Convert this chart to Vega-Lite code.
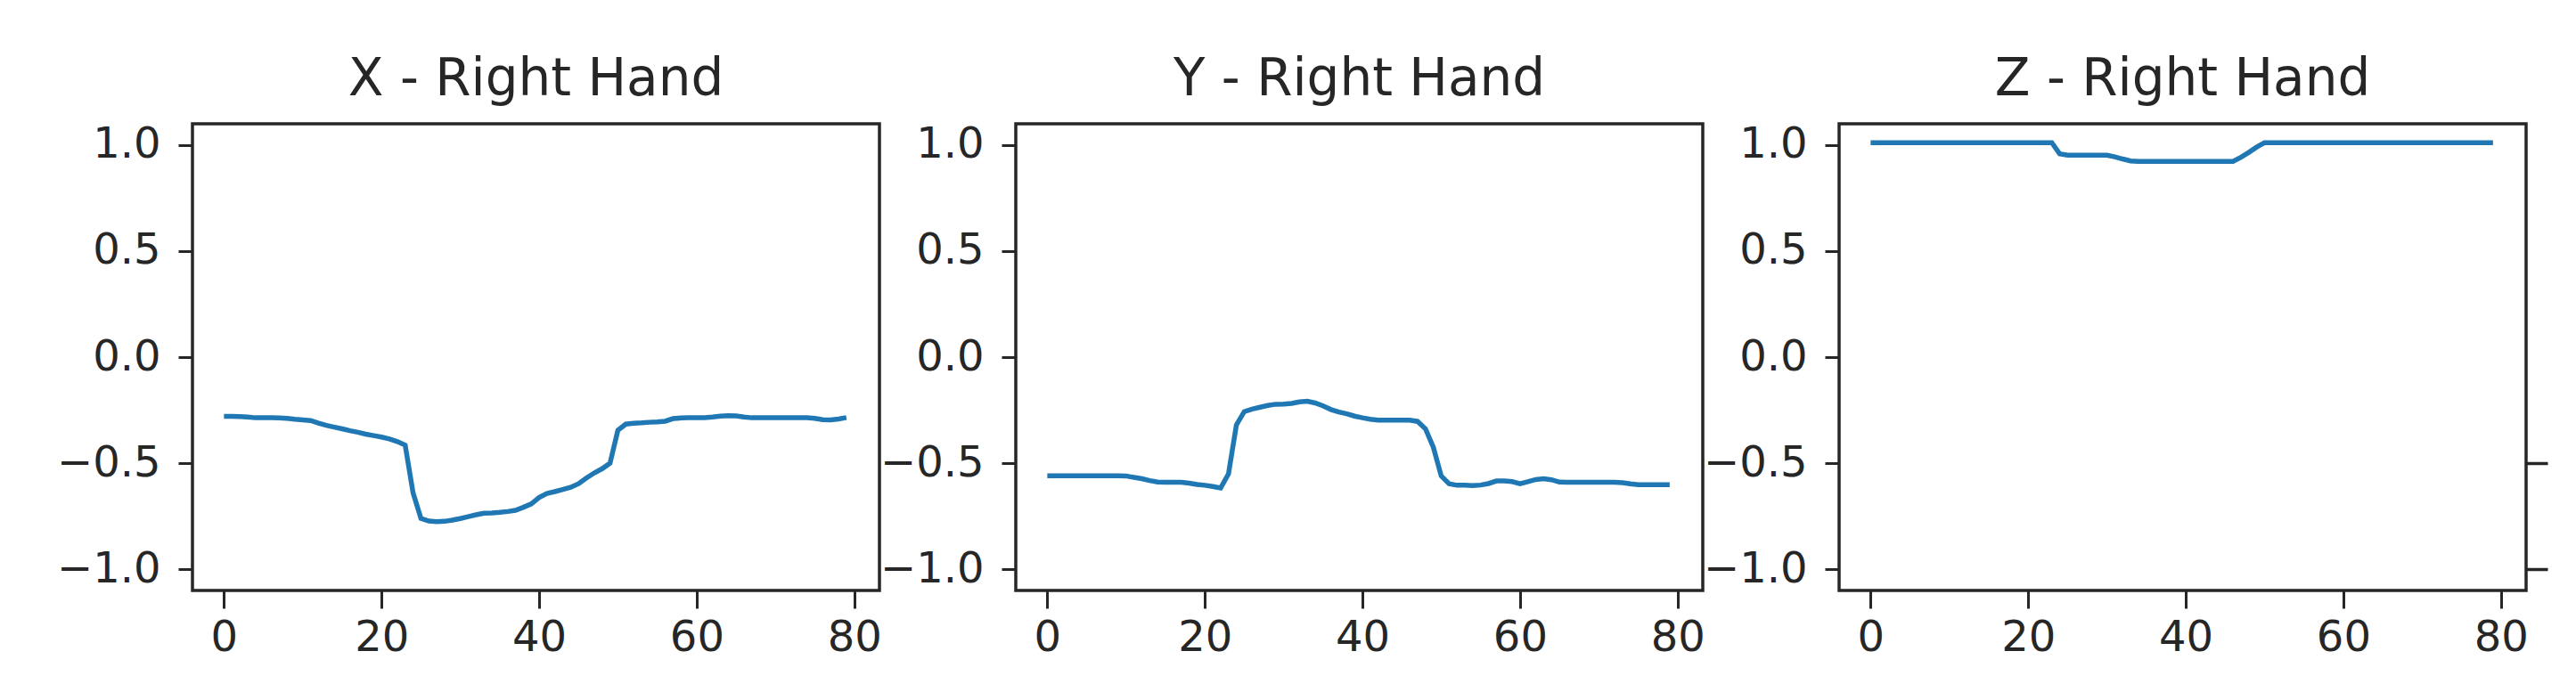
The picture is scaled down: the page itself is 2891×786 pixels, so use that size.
{
  "$schema": "https://vega.github.io/schema/vega-lite/v6.json",
  "background": "white",
  "padding": {"left": 61, "top": 59, "right": 0, "bottom": 0},
  "spacing": 153,
  "bounds": "flush",
  "data": {"values": [
    {"p":"X","t":0,"v":-0.279},{"p":"X","t":1,"v":-0.279},{"p":"X","t":2,"v":-0.280},{"p":"X","t":3,"v":-0.282},{"p":"X","t":4,"v":-0.286},{"p":"X","t":5,"v":-0.286},{"p":"X","t":6,"v":-0.286},{"p":"X","t":7,"v":-0.287},{"p":"X","t":8,"v":-0.289},{"p":"X","t":9,"v":-0.293},
    {"p":"X","t":10,"v":-0.296},{"p":"X","t":11,"v":-0.299},{"p":"X","t":12,"v":-0.311},{"p":"X","t":13,"v":-0.322},{"p":"X","t":14,"v":-0.330},{"p":"X","t":15,"v":-0.338},{"p":"X","t":16,"v":-0.347},{"p":"X","t":17,"v":-0.354},{"p":"X","t":18,"v":-0.363},{"p":"X","t":19,"v":-0.370},
    {"p":"X","t":20,"v":-0.377},{"p":"X","t":21,"v":-0.386},{"p":"X","t":22,"v":-0.398},{"p":"X","t":23,"v":-0.415},{"p":"X","t":24,"v":-0.640},{"p":"X","t":25,"v":-0.760},{"p":"X","t":26,"v":-0.773},{"p":"X","t":27,"v":-0.776},{"p":"X","t":28,"v":-0.774},{"p":"X","t":29,"v":-0.768},
    {"p":"X","t":30,"v":-0.761},{"p":"X","t":31,"v":-0.752},{"p":"X","t":32,"v":-0.743},{"p":"X","t":33,"v":-0.736},{"p":"X","t":34,"v":-0.735},{"p":"X","t":35,"v":-0.732},{"p":"X","t":36,"v":-0.728},{"p":"X","t":37,"v":-0.722},{"p":"X","t":38,"v":-0.708},{"p":"X","t":39,"v":-0.692},
    {"p":"X","t":40,"v":-0.662},{"p":"X","t":41,"v":-0.643},{"p":"X","t":42,"v":-0.634},{"p":"X","t":43,"v":-0.624},{"p":"X","t":44,"v":-0.614},{"p":"X","t":45,"v":-0.597},{"p":"X","t":46,"v":-0.570},{"p":"X","t":47,"v":-0.546},{"p":"X","t":48,"v":-0.526},{"p":"X","t":49,"v":-0.500},
    {"p":"X","t":50,"v":-0.345},{"p":"X","t":51,"v":-0.316},{"p":"X","t":52,"v":-0.312},{"p":"X","t":53,"v":-0.310},{"p":"X","t":54,"v":-0.307},{"p":"X","t":55,"v":-0.305},{"p":"X","t":56,"v":-0.302},{"p":"X","t":57,"v":-0.290},{"p":"X","t":58,"v":-0.287},{"p":"X","t":59,"v":-0.286},
    {"p":"X","t":60,"v":-0.286},{"p":"X","t":61,"v":-0.285},{"p":"X","t":62,"v":-0.282},{"p":"X","t":63,"v":-0.278},{"p":"X","t":64,"v":-0.276},{"p":"X","t":65,"v":-0.277},{"p":"X","t":66,"v":-0.282},{"p":"X","t":67,"v":-0.286},{"p":"X","t":68,"v":-0.286},{"p":"X","t":69,"v":-0.286},
    {"p":"X","t":70,"v":-0.286},{"p":"X","t":71,"v":-0.286},{"p":"X","t":72,"v":-0.286},{"p":"X","t":73,"v":-0.286},{"p":"X","t":74,"v":-0.286},{"p":"X","t":75,"v":-0.289},{"p":"X","t":76,"v":-0.295},{"p":"X","t":77,"v":-0.296},{"p":"X","t":78,"v":-0.292},{"p":"X","t":79,"v":-0.285},
    {"p":"Y","t":0,"v":-0.559},{"p":"Y","t":1,"v":-0.559},{"p":"Y","t":2,"v":-0.559},{"p":"Y","t":3,"v":-0.559},{"p":"Y","t":4,"v":-0.559},{"p":"Y","t":5,"v":-0.559},{"p":"Y","t":6,"v":-0.559},{"p":"Y","t":7,"v":-0.559},{"p":"Y","t":8,"v":-0.559},{"p":"Y","t":9,"v":-0.559},
    {"p":"Y","t":10,"v":-0.560},{"p":"Y","t":11,"v":-0.567},{"p":"Y","t":12,"v":-0.573},{"p":"Y","t":13,"v":-0.582},{"p":"Y","t":14,"v":-0.589},{"p":"Y","t":15,"v":-0.590},{"p":"Y","t":16,"v":-0.590},{"p":"Y","t":17,"v":-0.590},{"p":"Y","t":18,"v":-0.594},{"p":"Y","t":19,"v":-0.600},
    {"p":"Y","t":20,"v":-0.604},{"p":"Y","t":21,"v":-0.610},{"p":"Y","t":22,"v":-0.617},{"p":"Y","t":23,"v":-0.550},{"p":"Y","t":24,"v":-0.320},{"p":"Y","t":25,"v":-0.257},{"p":"Y","t":26,"v":-0.245},{"p":"Y","t":27,"v":-0.236},{"p":"Y","t":28,"v":-0.228},{"p":"Y","t":29,"v":-0.222},
    {"p":"Y","t":30,"v":-0.221},{"p":"Y","t":31,"v":-0.218},{"p":"Y","t":32,"v":-0.211},{"p":"Y","t":33,"v":-0.208},{"p":"Y","t":34,"v":-0.216},{"p":"Y","t":35,"v":-0.230},{"p":"Y","t":36,"v":-0.247},{"p":"Y","t":37,"v":-0.259},{"p":"Y","t":38,"v":-0.267},{"p":"Y","t":39,"v":-0.278},
    {"p":"Y","t":40,"v":-0.286},{"p":"Y","t":41,"v":-0.293},{"p":"Y","t":42,"v":-0.297},{"p":"Y","t":43,"v":-0.297},{"p":"Y","t":44,"v":-0.297},{"p":"Y","t":45,"v":-0.297},{"p":"Y","t":46,"v":-0.297},{"p":"Y","t":47,"v":-0.303},{"p":"Y","t":48,"v":-0.338},{"p":"Y","t":49,"v":-0.425},
    {"p":"Y","t":50,"v":-0.560},{"p":"Y","t":51,"v":-0.597},{"p":"Y","t":52,"v":-0.604},{"p":"Y","t":53,"v":-0.604},{"p":"Y","t":54,"v":-0.606},{"p":"Y","t":55,"v":-0.603},{"p":"Y","t":56,"v":-0.596},{"p":"Y","t":57,"v":-0.584},{"p":"Y","t":58,"v":-0.584},{"p":"Y","t":59,"v":-0.587},
    {"p":"Y","t":60,"v":-0.597},{"p":"Y","t":61,"v":-0.587},{"p":"Y","t":62,"v":-0.577},{"p":"Y","t":63,"v":-0.573},{"p":"Y","t":64,"v":-0.578},{"p":"Y","t":65,"v":-0.589},{"p":"Y","t":66,"v":-0.590},{"p":"Y","t":67,"v":-0.590},{"p":"Y","t":68,"v":-0.590},{"p":"Y","t":69,"v":-0.590},
    {"p":"Y","t":70,"v":-0.590},{"p":"Y","t":71,"v":-0.590},{"p":"Y","t":72,"v":-0.590},{"p":"Y","t":73,"v":-0.592},{"p":"Y","t":74,"v":-0.597},{"p":"Y","t":75,"v":-0.601},{"p":"Y","t":76,"v":-0.601},{"p":"Y","t":77,"v":-0.601},{"p":"Y","t":78,"v":-0.601},{"p":"Y","t":79,"v":-0.601},
    {"p":"Z","t":0,"v":1.011},{"p":"Z","t":1,"v":1.011},{"p":"Z","t":2,"v":1.011},{"p":"Z","t":3,"v":1.011},{"p":"Z","t":4,"v":1.011},{"p":"Z","t":5,"v":1.011},{"p":"Z","t":6,"v":1.011},{"p":"Z","t":7,"v":1.011},{"p":"Z","t":8,"v":1.011},{"p":"Z","t":9,"v":1.011},
    {"p":"Z","t":10,"v":1.011},{"p":"Z","t":11,"v":1.011},{"p":"Z","t":12,"v":1.011},{"p":"Z","t":13,"v":1.011},{"p":"Z","t":14,"v":1.011},{"p":"Z","t":15,"v":1.011},{"p":"Z","t":16,"v":1.011},{"p":"Z","t":17,"v":1.011},{"p":"Z","t":18,"v":1.011},{"p":"Z","t":19,"v":1.011},
    {"p":"Z","t":20,"v":1.011},{"p":"Z","t":21,"v":1.011},{"p":"Z","t":22,"v":1.011},{"p":"Z","t":23,"v":1.011},{"p":"Z","t":24,"v":0.958},{"p":"Z","t":25,"v":0.952},{"p":"Z","t":26,"v":0.952},{"p":"Z","t":27,"v":0.952},{"p":"Z","t":28,"v":0.952},{"p":"Z","t":29,"v":0.952},
    {"p":"Z","t":30,"v":0.952},{"p":"Z","t":31,"v":0.944},{"p":"Z","t":32,"v":0.934},{"p":"Z","t":33,"v":0.925},{"p":"Z","t":34,"v":0.923},{"p":"Z","t":35,"v":0.923},{"p":"Z","t":36,"v":0.923},{"p":"Z","t":37,"v":0.923},{"p":"Z","t":38,"v":0.923},{"p":"Z","t":39,"v":0.923},
    {"p":"Z","t":40,"v":0.923},{"p":"Z","t":41,"v":0.923},{"p":"Z","t":42,"v":0.923},{"p":"Z","t":43,"v":0.923},{"p":"Z","t":44,"v":0.923},{"p":"Z","t":45,"v":0.923},{"p":"Z","t":46,"v":0.923},{"p":"Z","t":47,"v":0.942},{"p":"Z","t":48,"v":0.965},{"p":"Z","t":49,"v":0.990},
    {"p":"Z","t":50,"v":1.011},{"p":"Z","t":51,"v":1.011},{"p":"Z","t":52,"v":1.011},{"p":"Z","t":53,"v":1.011},{"p":"Z","t":54,"v":1.011},{"p":"Z","t":55,"v":1.011},{"p":"Z","t":56,"v":1.011},{"p":"Z","t":57,"v":1.011},{"p":"Z","t":58,"v":1.011},{"p":"Z","t":59,"v":1.011},
    {"p":"Z","t":60,"v":1.011},{"p":"Z","t":61,"v":1.011},{"p":"Z","t":62,"v":1.011},{"p":"Z","t":63,"v":1.011},{"p":"Z","t":64,"v":1.011},{"p":"Z","t":65,"v":1.011},{"p":"Z","t":66,"v":1.011},{"p":"Z","t":67,"v":1.011},{"p":"Z","t":68,"v":1.011},{"p":"Z","t":69,"v":1.011},
    {"p":"Z","t":70,"v":1.011},{"p":"Z","t":71,"v":1.011},{"p":"Z","t":72,"v":1.011},{"p":"Z","t":73,"v":1.011},{"p":"Z","t":74,"v":1.011},{"p":"Z","t":75,"v":1.011},{"p":"Z","t":76,"v":1.011},{"p":"Z","t":77,"v":1.011},{"p":"Z","t":78,"v":1.011},{"p":"Z","t":79,"v":1.011}
  ]},
  "config": {
    "font": "DejaVu Sans",
    "view": {"stroke": "#262626", "strokeWidth": 3.5},
    "axis": {"grid": false, "domain": false, "labelFont": "DejaVu Sans", "labelFontSize": 48, "labelColor": "#262626", "tickColor": "#262626", "tickWidth": 3, "title": null},
    "axisX": {"tickSize": 20, "labelPadding": 9},
    "axisY": {"tickSize": 16, "labelPadding": 20},
    "title": {"fontSize": 58, "font": "DejaVu Sans", "fontWeight": "normal", "color": "#262626", "baseline": "alphabetic", "offset": 20}
  },
  "hconcat": [
    {
      "width": 771, "height": 524,
      "title": "X - Right Hand",
      "transform": [{"filter": "datum.p === 'X'"}],
      "mark": {"type": "line", "color": "#1f77b4", "strokeWidth": 5.5, "clip": true},
      "encoding": {
        "x": {"field": "t", "type": "quantitative", "scale": {"domain": [-4, 83.2], "nice": false, "zero": false}, "axis": {"values": [0, 20, 40, 60, 80]}},
        "y": {"field": "v", "type": "quantitative", "scale": {"domain": [-1.1, 1.1], "nice": false}, "axis": {"values": [-1, -0.5, 0, 0.5, 1], "format": ".1f"}}
      }
    },
    {
      "width": 771, "height": 524,
      "title": "Y - Right Hand",
      "transform": [{"filter": "datum.p === 'Y'"}],
      "mark": {"type": "line", "color": "#1f77b4", "strokeWidth": 5.5, "clip": true},
      "encoding": {
        "x": {"field": "t", "type": "quantitative", "scale": {"domain": [-4, 83.2], "nice": false, "zero": false}, "axis": {"values": [0, 20, 40, 60, 80]}},
        "y": {"field": "v", "type": "quantitative", "scale": {"domain": [-1.1, 1.1], "nice": false}, "axis": {"values": [-1, -0.5, 0, 0.5, 1], "format": ".1f"}}
      }
    },
    {
      "width": 771, "height": 524,
      "title": "Z - Right Hand",
      "transform": [{"filter": "datum.p === 'Z'"}],
      "encoding": {
        "x": {"field": "t", "type": "quantitative", "scale": {"domain": [-4, 83.2], "nice": false, "zero": false}, "axis": {"values": [0, 20, 40, 60, 80]}}
      },
      "layer": [
        {
          "mark": {"type": "line", "color": "#1f77b4", "strokeWidth": 5.5, "clip": true},
          "encoding": {
            "y": {"field": "v", "type": "quantitative", "scale": {"domain": [-1.1, 1.1], "nice": false}, "axis": {"values": [-1, -0.5, 0, 0.5, 1], "format": ".1f"}}
          }
        },
        {
          "mark": {"type": "line", "opacity": 0, "clip": true},
          "encoding": {
            "y": {"field": "v", "type": "quantitative", "axis": {"orient": "right", "values": [-1, -0.5], "labels": false, "tickSize": 24, "tickWidth": 3.5}}
          }
        }
      ],
      "resolve": {"axis": {"y": "independent"}}
    }
  ]
}
